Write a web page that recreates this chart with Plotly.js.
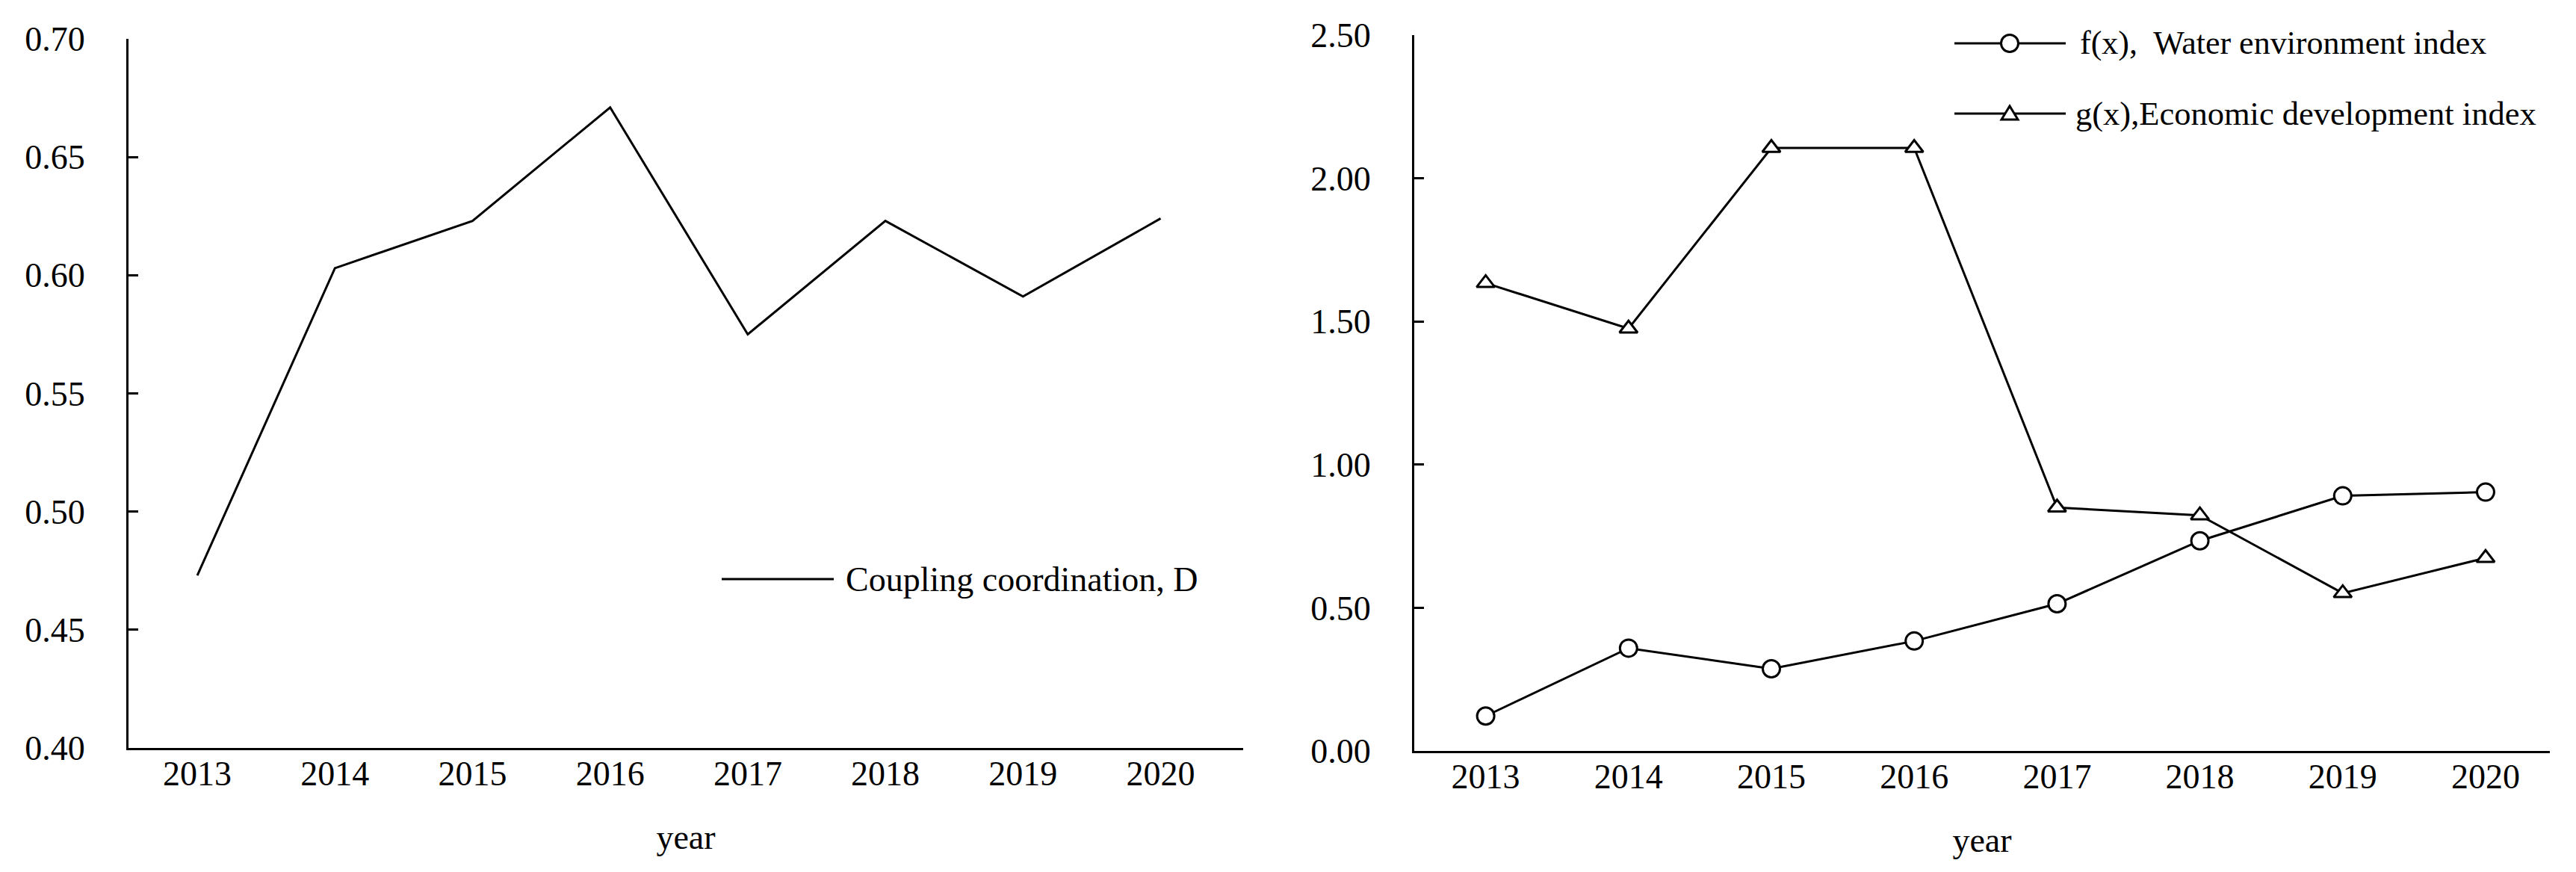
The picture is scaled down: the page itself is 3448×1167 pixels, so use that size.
<!DOCTYPE html>
<html>
<head>
<meta charset="utf-8">
<script src="https://cdn.plot.ly/plotly-3.0.1.min.js"></script>
<style>html,body{margin:0;padding:0;background:#fff;}#chart{width:3448px;height:1167px;}</style>
</head>
<body>
<div id="chart"></div>
<script>
// ---- data ----
const years = ['2013', '2014', '2015', '2016', '2017', '2018', '2019', '2020'];
const couplingD = [0.473, 0.603, 0.623, 0.671, 0.575, 0.623, 0.591, 0.624];
const waterIndex = [0.122, 0.359, 0.287, 0.384, 0.514, 0.734, 0.891, 0.904];
const econIndex = [1.634, 1.475, 2.106, 2.106, 0.850, 0.823, 0.551, 0.674];
const nameD = 'Coupling coordination, D';
const nameF = 'f(x),\u00a0 Water environment index';
const nameG = 'g(x),Economic development index';
const xTitle = 'year';

const W = 3448, H = 1167;
const FONT = 'Liberation Serif, Times New Roman, serif';
const FS = 46;
const px = v => v / W;
const py = v => 1 - v / H;

const traces = [
  { x: years, y: couplingD, xaxis: 'x', yaxis: 'y', type: 'scatter', mode: 'lines',
    line: { color: '#000', width: 3 }, name: nameD, showlegend: false },
  { x: years, y: econIndex, xaxis: 'x2', yaxis: 'y2', type: 'scatter', mode: 'lines+markers',
    line: { color: '#000', width: 3 },
    marker: { symbol: 'triangle-up', size: 21, color: '#fff', line: { color: '#000', width: 3 } },
    name: nameG, showlegend: false, cliponaxis: false },
  { x: years, y: waterIndex, xaxis: 'x2', yaxis: 'y2', type: 'scatter', mode: 'lines+markers',
    line: { color: '#000', width: 3 },
    marker: { symbol: 'circle', size: 23, color: '#fff', line: { color: '#000', width: 3 } },
    name: nameF, showlegend: false, cliponaxis: false }
];

const xCommon = {
  type: 'category', showline: true, linecolor: '#000', linewidth: 3, ticks: '',
  showgrid: false, zeroline: false, tickfont: { family: FONT, size: FS, color: '#000' },
  ticklabelstandoff: -8,
  title: { text: xTitle, font: { family: FONT, size: FS, color: '#000' }, standoff: 44 }
};
const yCommon = {
  showline: true, linecolor: '#000', linewidth: 3, ticks: 'inside', ticklen: 13, tickwidth: 3,
  tickcolor: '#000', showgrid: false, zeroline: false, tickformat: '.2f',
  tickfont: { family: FONT, size: FS, color: '#000' }, ticklabelstandoff: 46
};

const layout = {
  width: W, height: H, margin: { l: 0, r: 0, t: 0, b: 0 },
  paper_bgcolor: '#fff', plot_bgcolor: '#fff', showlegend: false,
  xaxis: Object.assign({}, xCommon, { domain: [px(172), px(1664)], range: [-0.5, 7.6], anchor: 'y' }),
  yaxis: Object.assign({}, yCommon, { domain: [py(1001), py(52)], range: [0.4, 0.7], dtick: 0.05, tick0: 0.4, anchor: 'x' }),
  xaxis2: Object.assign({}, xCommon, { domain: [px(1893), px(3413)], range: [-0.5, 7.45], anchor: 'y2' }),
  yaxis2: Object.assign({}, yCommon, { domain: [py(1005), py(47)], range: [0, 2.5], dtick: 0.5, tick0: 0, anchor: 'x2' }),
  shapes: [
    // legend samples
    { type: 'line', xref: 'paper', yref: 'paper', x0: px(966), x1: px(1116), y0: py(775), y1: py(775), line: { color: '#000', width: 3 } },
    { type: 'line', xref: 'paper', yref: 'paper', x0: px(2616), x1: px(2765), y0: py(58), y1: py(58), line: { color: '#000', width: 3 } },
    { type: 'line', xref: 'paper', yref: 'paper', x0: px(2616), x1: px(2765), y0: py(152), y1: py(152), line: { color: '#000', width: 3 } },
    { type: 'circle', xref: 'paper', yref: 'paper', xsizemode: 'pixel', ysizemode: 'pixel',
      xanchor: px(2690), yanchor: py(58), x0: -11.5, x1: 11.5, y0: -11.5, y1: 11.5,
      fillcolor: '#fff', line: { color: '#000', width: 3 } },
    { type: 'path', xref: 'paper', yref: 'paper', xsizemode: 'pixel', ysizemode: 'pixel',
      xanchor: px(2690), yanchor: py(152), path: 'M -11,-8 L 11,-8 L 0,10 Z',
      fillcolor: '#fff', line: { color: '#000', width: 3 } }
  ],
  annotations: [
    { xref: 'paper', yref: 'paper', x: px(1130), y: py(775), xanchor: 'left', yanchor: 'middle',
      text: nameD, showarrow: false, font: { family: FONT, size: FS, color: '#000' } },
    { xref: 'paper', yref: 'paper', x: px(2782), y: py(58), xanchor: 'left', yanchor: 'middle',
      text: nameF, showarrow: false, font: { family: FONT, size: 44, color: '#000' } },
    { xref: 'paper', yref: 'paper', x: px(2776), y: py(152), xanchor: 'left', yanchor: 'middle',
      text: nameG, showarrow: false, font: { family: FONT, size: 44.5, color: '#000' } }
  ]
};

Plotly.newPlot('chart', traces, layout, { staticPlot: true, displayModeBar: false });
</script>
</body>
</html>
